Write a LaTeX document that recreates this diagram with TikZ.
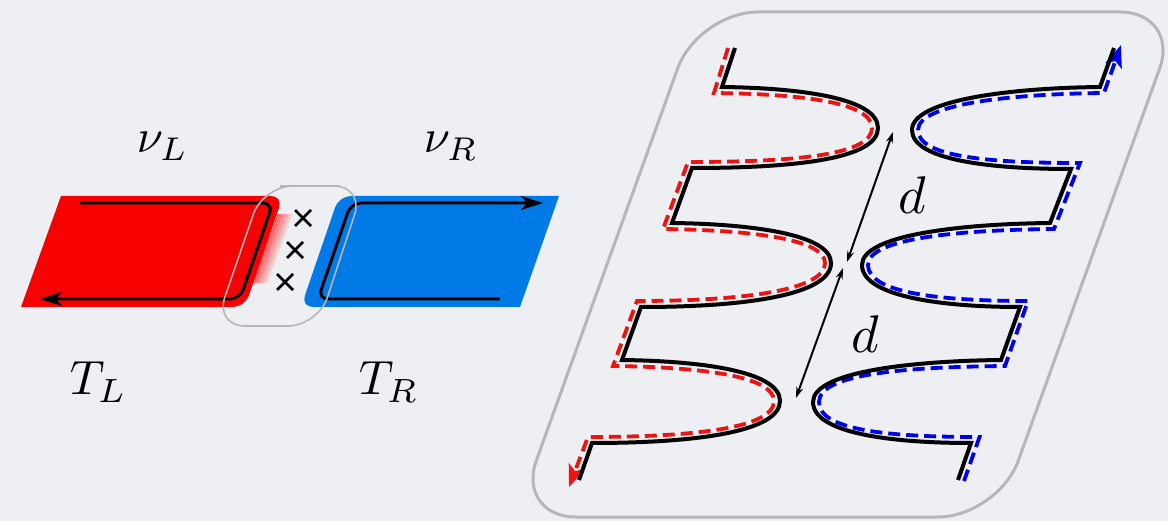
\documentclass[tikz,border=0pt]{standalone}
\usetikzlibrary{arrows.meta}
\definecolor{bg}{RGB}{237,239,243}
\definecolor{redfill}{RGB}{246,0,0}
\definecolor{bluefill}{RGB}{0,122,230}
\definecolor{panelgray}{RGB}{182,182,185}
\definecolor{reddash}{RGB}{238,18,18}
\definecolor{bluedash}{RGB}{0,0,234}
\begin{document}
\begin{tikzpicture}[x=1pt,y=-1pt,
  wire/.style={line width=4pt,black},
  rdash/.style={line width=3.8pt,reddash,dash pattern=on 12pt off 6pt},
  bdash/.style={line width=3.8pt,bluedash,dash pattern=on 12pt off 6pt},
  bigtip/.style={-{Stealth[length=22pt,width=17pt,inset=5pt]}},
  lead/.style={line width=3pt,black,rounded corners=10pt,-{Stealth[length=22pt,width=14pt,inset=6pt]}},
  sep/.style={line width=2pt,black,{Stealth[length=11pt,width=7pt]}-{Stealth[length=11pt,width=7pt]}},
  lbl/.style={inner sep=0pt,anchor=base west},
  crossmark/.style={line width=2.8pt,black},
  loopline/.style={line width=1.6pt,panelgray}]
\useasboundingbox (0,0) rectangle (1168,521);
\fill[bg] (0,0) rectangle (1168,521);
% glow right of red
\foreach \i in {0,...,15}{
  \pgfmathsetmacro{\op}{0.55*(1-\i/16)}
  \draw[red,line width=1.05pt,opacity=\op] (278+\i,214) -- (253+\i,283);
}
% red and blue regions
\fill[redfill] (150,196) [rounded corners=12pt] -- (283,196) -- (245,307) -- (150,307) [sharp corners] -- (21,307) -- (61,196) -- cycle;
\fill[bluefill] (450,307) -- (520,307) -- (559,196) -- (450,196) [rounded corners=12pt] -- (339,196) -- (301,307) -- (440,307) [sharp corners] -- cycle;
\draw[lead] (80,203) -- (273,203) -- (240,299) -- (40,299);
\draw[lead] (500,299) -- (318,299) -- (351,203) -- (543,203);
% crosses
\foreach \cx/\cy in {303/218,295/250,285/282}{
  \draw[crossmark] (\cx-8,\cy-8) -- (\cx+8,\cy+8);
  \draw[crossmark] (\cx-8,\cy+8) -- (\cx+8,\cy-8);
}
% contact loop
\draw[loopline,rounded corners=30pt] (310,186) -- (364,186) -- (318,326) -- (215,326) -- (263,186) -- cycle;
% labels left
\node[lbl,scale=4.7] (nuL) at (136,153) {$\nu_L$};
\node[lbl,scale=4.7] (nuR) at (423,153) {$\nu_R$};
\node[lbl,scale=4.8] (TL) at (69,395) {$T_L$};
\node[lbl,scale=4.8] (TR) at (358,395) {$T_R$};
% right panel
\draw[panelgray,line width=3pt,rounded corners=60pt] (850,12) -- (1180,12) -- (998,517) -- (516,517) -- (698,12) -- cycle;
\draw[rdash,bigtip] (728,48) -- (714,93) .. controls (795,94) and (872,101) .. (872,128) .. controls (872,155) and (795,162) .. (688,162) -- (663,229) .. controls (745,230) and (825,238) .. (825,263) .. controls (825,290) and (745,301) .. (637,301) -- (613,366) .. controls (695,367) and (774,375) .. (774,401) .. controls (774,428) and (695,437) .. (588,437) -- (569,487);
\draw[bdash,bigtip] (964,481) -- (979.5,437) .. controls (892,437) and (819,431) .. (819,402) .. controls (819,373) and (910,367) .. (1005,366) -- (1028,301) .. controls (940,301) and (868,293) .. (868,265) .. controls (868,238) and (960,230) .. (1054,229) -- (1080,163) .. controls (990,163) and (918,157) .. (918,130) .. controls (918,104) and (1010,94) .. (1104,93) -- (1121,45);
\draw[wire] (735,48) -- (722,87) .. controls (800,88) and (878,98) .. (878,128) .. controls (878,158) and (800,168) .. (692,168) -- (672,223) .. controls (750,224) and (831,234) .. (831,263) .. controls (831,294) and (750,307) .. (641,307) -- (622,360) .. controls (700,361) and (780,371) .. (780,401) .. controls (780,431) and (700,443) .. (592,443) -- (579,480);
\draw[wire] (1114,48) -- (1100,87) .. controls (1010,88) and (912,100) .. (912,130) .. controls (912,160) and (990,169) .. (1071,169) -- (1050,223) .. controls (960,224) and (862,235) .. (862,265) .. controls (862,296) and (940,307) .. (1020,307) -- (1001,360) .. controls (910,361) and (813,372) .. (813,402) .. controls (813,433) and (890,443) .. (971,443) -- (958,480);
\coordinate (g1) at (893,132);
\coordinate (g2a) at (847,262);
\coordinate (g2b) at (843,268);
\coordinate (g3) at (796,398);
\draw[sep] (g1) -- (g2a);
\draw[sep] (g2b) -- (g3);
\node[lbl,scale=5.3] (d1) at (897,214) {$d$};
\node[lbl,scale=5.3] (d2) at (850,353) {$d$};
\end{tikzpicture}
\end{document}
